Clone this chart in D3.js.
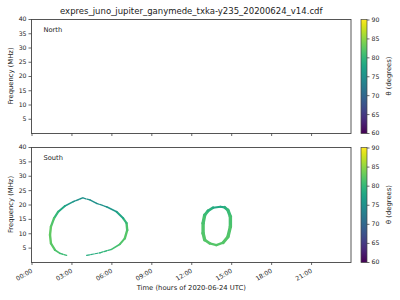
<!DOCTYPE html>
<html>
<head>
<meta charset="utf-8">
<script src="https://cdn.jsdelivr.net/npm/d3@7"></script>
<style>
  body { margin: 0; background: #fff; }
  text { font-family: "DejaVu Sans", sans-serif; fill: #222; }
</style>
</head>
<body>
<div id="chart"></div>
<script>
// ---- data ----
var title = 'expres_juno_jupiter_ganymede_txka-y235_20200624_v14.cdf';
var panels = ['North', 'South'];
var freqTicks = [5, 10, 15, 20, 25, 30, 35, 40];
var hourTicks = [0, 3, 6, 9, 12, 15, 18, 21];
var hourLabels = ['00:00', '03:00', '06:00', '09:00', '12:00', '15:00', '18:00', '21:00'];
var thetaTicks = [60, 65, 70, 75, 80, 85, 90];

// South, large arc (open at the bottom)
var arcHours = [4.14, 5.14, 6.01, 6.64, 7.01, 7.19, 7.14, 6.89, 6.39, 5.64, 4.89, 4.39, 3.84, 3.14, 2.51, 2.01, 1.69, 1.46, 1.39, 1.46, 1.76, 2.14, 2.64];
var arcFreq  = [2.3, 3.2, 4.4, 6.2, 8.2, 11.1, 13.5, 15.2, 17.5, 19.2, 20.4, 21.6, 22.3, 21.0, 19.5, 17.5, 15.2, 12.3, 9.4, 6.5, 4.2, 3.0, 2.3];
var arcTheta = [78.5, 79, 80.5, 81.5, 82, 82, 81, 79, 76.5, 75.5, 75, 75, 75, 75.5, 77, 79, 81, 82.5, 82.5, 82.5, 82, 81, 80];

// South, small closed loop
var loopHours = [14.19, 14.51, 14.76, 14.94, 14.94, 14.76, 14.39, 13.89, 13.39, 13.01, 12.89, 12.89, 13.01, 13.26, 13.64, 14.19];
var loopFreq  = [19.2, 19.0, 18.0, 15.8, 12.3, 8.8, 6.7, 5.9, 6.5, 7.7, 10.0, 13.5, 16.3, 17.8, 18.9, 19.2];
var loopTheta = [77.5, 78.5, 80, 81, 81.5, 82, 82, 82, 82, 82, 82, 81.5, 81, 80, 78.5, 77.5];

// ---- layout ----
var width = 400, height = 300;
var left = 31.5, right = 351;
var rows = [[19, 133], [147, 262]];
var cbX = 361, cbW = 6;

var svg = d3.select('#chart').append('svg')
  .attr('width', width)
  .attr('height', height);

var x = d3.scaleLinear().domain([0, 24]).range([left, right]);
var color = d3.scaleSequential(d3.interpolateViridis).domain([60, 90]);

var defs = svg.append('defs');
var grad = defs.append('linearGradient')
  .attr('id', 'viridis')
  .attr('x1', 0).attr('y1', 1).attr('x2', 0).attr('y2', 0);
d3.range(0, 1.0001, 0.05).forEach(function (t) {
  grad.append('stop').attr('offset', t).attr('stop-color', d3.interpolateViridis(t));
});

svg.append('text')
  .attr('x', (left + right) / 2)
  .attr('y', 14)
  .attr('text-anchor', 'middle')
  .style('font-size', '8.5px')
  .text(title);

var yScales = [];

panels.forEach(function (name, i) {
  var top = rows[i][0], bottom = rows[i][1];
  var y = d3.scaleLinear().domain([0, 40]).range([bottom, top]);
  yScales.push(y);
  var g = svg.append('g');

  // y axis
  var yAxis = g.append('g')
    .attr('transform', 'translate(' + left + ',0)')
    .call(d3.axisLeft(y).tickValues(freqTicks).tickSize(3).tickPadding(2));
  // x axis
  var xAxis = g.append('g')
    .attr('transform', 'translate(0,' + bottom + ')')
    .call(d3.axisBottom(x).tickValues(hourTicks).tickSize(3)
      .tickFormat(i === 0 ? function () { return ''; } : null));

  [yAxis, xAxis].forEach(function (a) {
    a.select('.domain').remove();
    a.selectAll('line').attr('stroke', '#444').attr('stroke-width', 0.8);
    a.selectAll('text').style('font-size', '6.2px').attr('fill', '#222');
  });

  if (i === 1) {
    xAxis.selectAll('text')
      .data(hourLabels)
      .text(function (d) { return d; })
      .attr('text-anchor', 'end')
      .attr('y', 0)
      .attr('dy', 0)
      .attr('transform', 'translate(1,10) rotate(-30)');
  }

  // frame
  g.append('rect')
    .attr('x', left).attr('y', top + 0.5)
    .attr('width', right - left).attr('height', bottom - top)
    .attr('fill', 'none').attr('stroke', '#444').attr('stroke-width', 0.9);

  g.append('text')
    .attr('x', left + 12).attr('y', top + 13)
    .style('font-size', '6.7px')
    .text(name);

  g.append('text')
    .attr('transform', 'translate(11,' + (top + bottom) / 2 + ') rotate(-90)')
    .attr('text-anchor', 'middle')
    .attr('dy', '0.35em')
    .style('font-size', '6.8px')
    .text('Frequency (MHz)');

  // colorbar
  var cb = d3.scaleLinear().domain([60, 90]).range([bottom, top + 0.5]);
  g.append('rect')
    .attr('x', cbX).attr('y', top + 0.5)
    .attr('width', cbW).attr('height', bottom - top)
    .attr('fill', 'url(#viridis)')
    .attr('stroke', '#444').attr('stroke-width', 0.7);
  var cbAxis = g.append('g')
    .attr('transform', 'translate(' + (cbX + cbW) + ',0)')
    .call(d3.axisRight(cb).tickValues(thetaTicks).tickSize(2.5).tickPadding(2));
  cbAxis.select('.domain').remove();
  cbAxis.selectAll('line').attr('stroke', '#444').attr('stroke-width', 0.8);
  cbAxis.selectAll('text').style('font-size', '6.2px').attr('fill', '#222');

  g.append('text')
    .attr('transform', 'translate(389,' + (top + bottom) / 2 + ') rotate(-90)')
    .attr('text-anchor', 'middle')
    .attr('dy', '0.35em')
    .style('font-size', '6.8px')
    .text('\u03b8 (degrees)');
});

svg.append('text')
  .attr('x', (left + right) / 2)
  .attr('y', 290)
  .attr('text-anchor', 'middle')
  .style('font-size', '6.8px')
  .text('Time (hours of 2020-06-24 UTC)');

// ---- emission traces (South panel) ----
function drawTrace(hours, freq, theta, base) {
  var y = yScales[1];
  var segs = d3.range(hours.length - 1).map(function (k) {
    return {
      x1: x(hours[k]), y1: y(freq[k]),
      x2: x(hours[k + 1]), y2: y(freq[k + 1]),
      t: (theta[k] + theta[k + 1]) / 2
    };
  });
  svg.append('g').selectAll('line')
    .data(segs)
    .enter()
    .append('line')
    .attr('x1', function (d) { return d.x1; })
    .attr('y1', function (d) { return d.y1; })
    .attr('x2', function (d) { return d.x2; })
    .attr('y2', function (d) { return d.y2; })
    .attr('stroke', function (d) { return color(d.t); })
    .attr('stroke-linecap', 'round')
    .attr('stroke-width', function (d) {
      var a = Math.abs(Math.atan2(d.y2 - d.y1, d.x2 - d.x1));
      return base + 1.5 * Math.abs(Math.sin(a));
    })
    .attr('stroke-dasharray', function (d) {
      var s = Math.abs((d.y2 - d.y1) / (d.x2 - d.x1));
      return (base < 1.5 && s < 0.45) ? '3 1.2' : null;
    });
}

drawTrace(arcHours, arcFreq, arcTheta, 0.9);
drawTrace(loopHours, loopFreq, loopTheta, 1.9);
</script>
</body>
</html>
